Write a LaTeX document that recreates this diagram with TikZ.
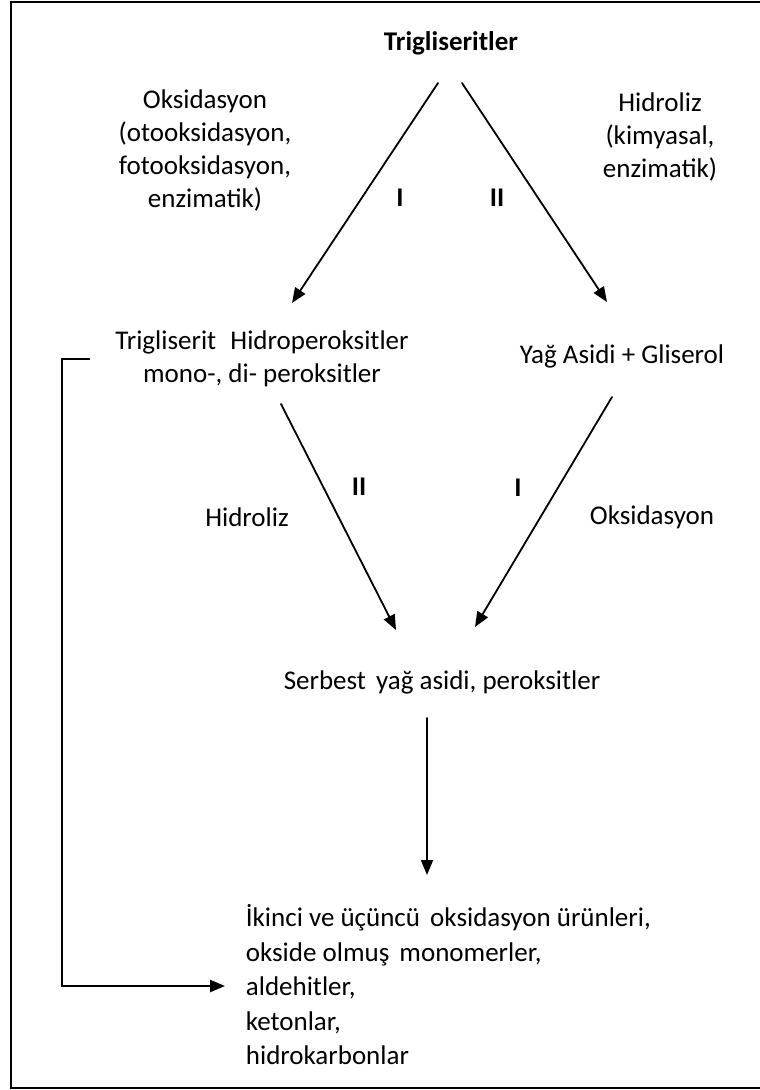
\documentclass[tikz,border=0pt]{standalone}
\usepackage{fontspec}
\setmainfont{Carlito}
\usetikzlibrary{arrows.meta,positioning}
\tikzstyle{every node}=[font=\fontsize{27}{33}\selectfont,align=center,inner sep=0pt]
\tikzstyle{every path}=[line width=1.8pt,line cap=round,line join=round]
\tikzstyle{arr}=[-{Triangle[length=15pt,width=12pt]}]

\begin{document}
\begin{tikzpicture}[x=1pt,y=-1pt]
\useasboundingbox (0,0) rectangle (760,1090);
\draw[line width=1.4pt,line cap=butt,line join=miter] (762,2)--(11,2)--(11,1088)--(762,1088);
% texts
\node (trig) at (451,43) {\textbf{Trigliseritler}};
\node (oks) at (205,150) {Oksidasyon\\(otooksidasyon,\\fotooksidasyon,\\enzimatik)};
\node (hid) at (660,137) {Hidroliz\\(kimyasal,\\enzimatik)};
\node (r1) at (400,198) {\textbf{I}};
\node (r2) at (497,198) {\textbf{II}};
\node (thp) at (262,359) {Trigliserit\hspace{0.3em} Hidroperoksitler\\mono-, di- peroksitler};
\node (yag) at (622,356) {Yağ Asidi + Gliserol};
\node (r3) at (359,487) {\textbf{II}};
\node (r4) at (518,488) {\textbf{I}};
\node (hid2) at (247,517) {Hidroliz};
\node (oks2) at (652,517) {Oksidasyon};
\node (serb) at (442,682) {Serbest\hspace{0.15em} yağ asidi, peroksitler};
\node[anchor=west,align=left,font=\fontsize{27}{34.5}\selectfont] (urun) at (245,985)
  {İkinci ve üçüncü\hspace{0.15em} oksidasyon ürünleri,\\okside olmuş\hspace{0.15em} monomerler,\\aldehitler,\\ketonlar,\\hidrokarbonlar};
% arrow ends
\coordinate (t1) at (438,83); \coordinate (t2) at (462,83);
\coordinate (a1) at (292,303); \coordinate (a2) at (607,302);
\coordinate (b1) at (281,404); \coordinate (b2) at (612,397);
\coordinate (c1) at (396,630); \coordinate (c2) at (475,627);
\coordinate (d1) at (427,718); \coordinate (d2) at (427,875);
\coordinate (k1) at (90,359); \coordinate (k2) at (225,986);
\draw[arr] (t1)--(a1);
\draw[arr] (t2)--(a2);
\draw[arr] (b1)--(c1);
\draw[arr] (b2)--(c2);
\draw[arr] (d1)--(d2);
\draw[arr,line width=2.4pt,line cap=butt,line join=miter] (k1)-|(62,986)--(k2);
\end{tikzpicture}
\end{document}
